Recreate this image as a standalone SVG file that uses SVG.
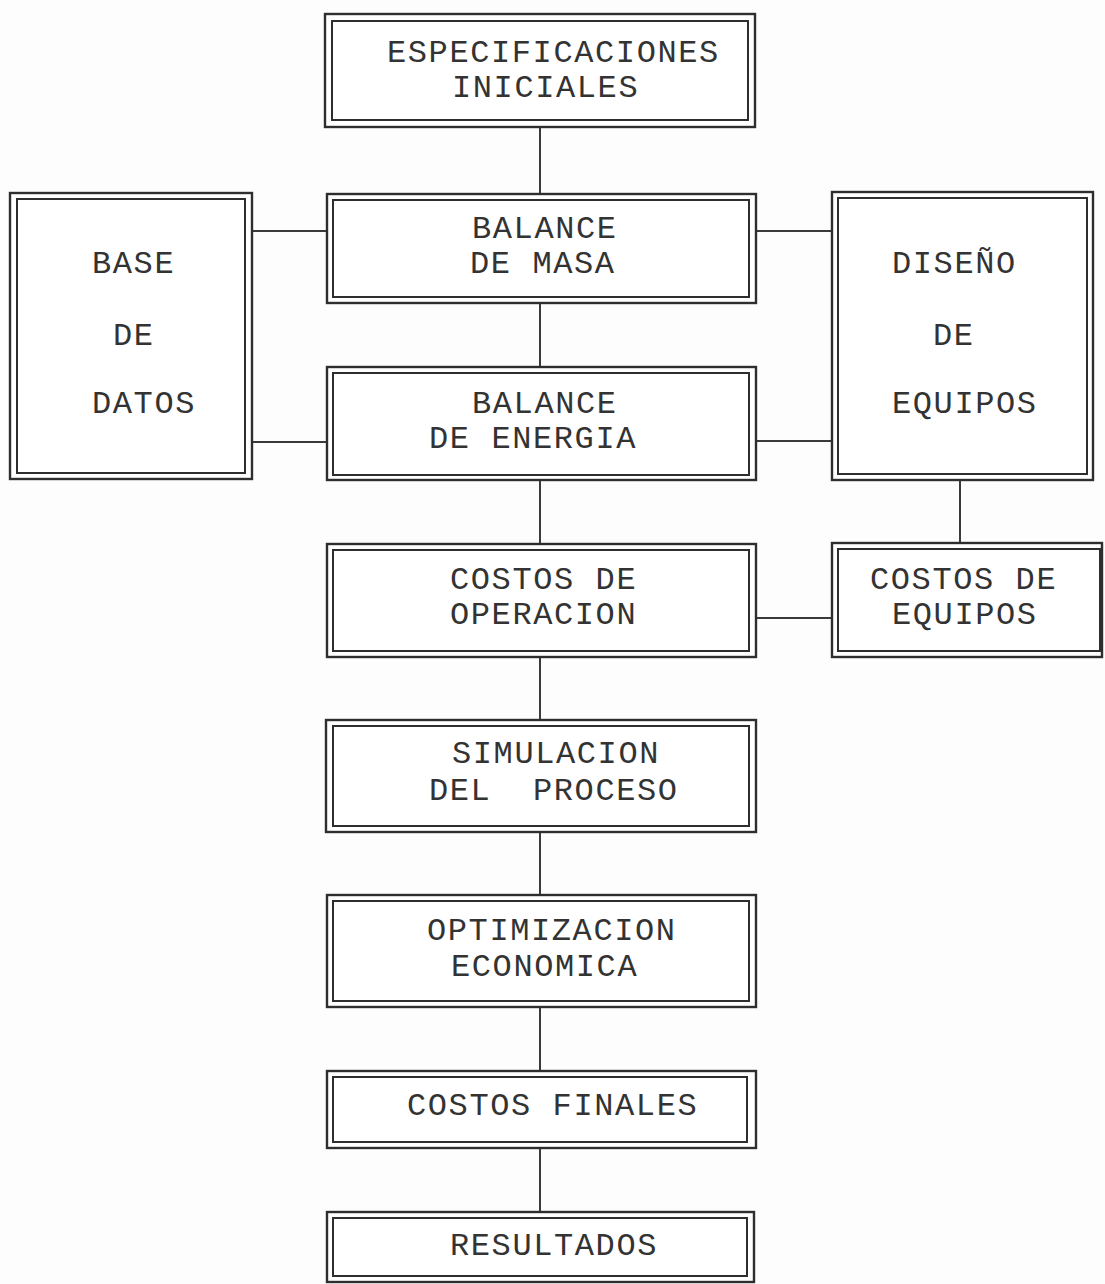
<svg xmlns="http://www.w3.org/2000/svg" width="1105" height="1284" viewBox="0 0 1105 1284">
  <style>
    .bg { fill: #fdfdfd; }
    .o { fill: #ffffff; stroke: #2e2e2e; stroke-width: 2.4; }
    .i { fill: none; stroke: #2e2e2e; stroke-width: 2; }
    .c { fill: none; stroke: #3a3a3a; stroke-width: 2; }
    .t { font-family: "Liberation Mono", "DejaVu Sans Mono", monospace; font-size: 32px; letter-spacing: 1.6px; fill: #333333; white-space: pre; }
  </style>
  <rect class="bg" x="0" y="0" width="1105" height="1284"/>

  <!-- connectors -->
  <g id="connectors">
    <line class="c" x1="540" y1="127" x2="540" y2="194"/>
    <line class="c" x1="540" y1="303" x2="540" y2="367"/>
    <line class="c" x1="540" y1="480" x2="540" y2="544"/>
    <line class="c" x1="540" y1="657" x2="540" y2="720"/>
    <line class="c" x1="540" y1="832" x2="540" y2="895"/>
    <line class="c" x1="540" y1="1007" x2="540" y2="1071"/>
    <line class="c" x1="540" y1="1148" x2="540" y2="1212"/>
    <line class="c" x1="252" y1="231" x2="327" y2="231"/>
    <line class="c" x1="252" y1="442" x2="327" y2="442"/>
    <line class="c" x1="756" y1="231" x2="832" y2="231"/>
    <line class="c" x1="756" y1="441" x2="832" y2="441"/>
    <line class="c" x1="756" y1="618" x2="832" y2="618"/>
    <line class="c" x1="960" y1="480" x2="960" y2="543"/>
  </g>

  <g id="especificaciones">
    <rect class="o" x="325" y="14" width="430" height="113"/>
    <rect class="i" x="332" y="21" width="416" height="99"/>
    <text class="t" x="387" y="62">ESPECIFICACIONES</text>
    <text class="t" x="452" y="97">INICIALES</text>
  </g>

  <g id="base-datos">
    <rect class="o" x="10" y="193" width="242" height="286"/>
    <rect class="i" x="17" y="199" width="228" height="274"/>
    <text class="t" x="92" y="273">BASE</text>
    <text class="t" x="113" y="345">DE</text>
    <text class="t" x="92" y="413">DATOS</text>
  </g>

  <g id="balance-masa">
    <rect class="o" x="327" y="194" width="429" height="109"/>
    <rect class="i" x="333" y="200" width="416" height="97"/>
    <text class="t" x="472" y="238">BALANCE</text>
    <text class="t" x="470" y="273">DE MASA</text>
  </g>

  <g id="diseno-equipos">
    <rect class="o" x="832" y="192" width="261" height="288"/>
    <rect class="i" x="838" y="198" width="249" height="276"/>
    <text class="t" x="892" y="273">DISEÑO</text>
    <text class="t" x="933" y="345">DE</text>
    <text class="t" x="892" y="413">EQUIPOS</text>
  </g>

  <g id="balance-energia">
    <rect class="o" x="327" y="367" width="429" height="113"/>
    <rect class="i" x="333" y="373" width="416" height="102"/>
    <text class="t" x="472" y="413">BALANCE</text>
    <text class="t" x="429" y="448">DE ENERGIA</text>
  </g>

  <g id="costos-operacion">
    <rect class="o" x="327" y="544" width="429" height="113"/>
    <rect class="i" x="333" y="550" width="416" height="101"/>
    <text class="t" x="450" y="589">COSTOS DE</text>
    <text class="t" x="450" y="624">OPERACION</text>
  </g>

  <g id="costos-equipos">
    <rect class="o" x="832" y="543" width="270" height="114"/>
    <rect class="i" x="838" y="549" width="262" height="102"/>
    <text class="t" x="870" y="589">COSTOS DE</text>
    <text class="t" x="892" y="624">EQUIPOS</text>
  </g>

  <g id="simulacion">
    <rect class="o" x="326" y="720" width="430" height="112"/>
    <rect class="i" x="333" y="726" width="416" height="100"/>
    <text class="t" x="452" y="763">SIMULACION</text>
    <text class="t" x="429" y="800" xml:space="preserve">DEL  PROCESO</text>
  </g>

  <g id="optimizacion">
    <rect class="o" x="327" y="895" width="429" height="112"/>
    <rect class="i" x="333" y="901" width="416" height="100"/>
    <text class="t" x="427" y="940">OPTIMIZACION</text>
    <text class="t" x="451" y="976">ECONOMICA</text>
  </g>

  <g id="costos-finales">
    <rect class="o" x="327" y="1071" width="429" height="77"/>
    <rect class="i" x="333" y="1077" width="414" height="65"/>
    <text class="t" x="407" y="1115">COSTOS FINALES</text>
  </g>

  <g id="resultados">
    <rect class="o" x="327" y="1212" width="427" height="70"/>
    <rect class="i" x="333" y="1218" width="414" height="58"/>
    <text class="t" x="450" y="1255">RESULTADOS</text>
  </g>
</svg>
